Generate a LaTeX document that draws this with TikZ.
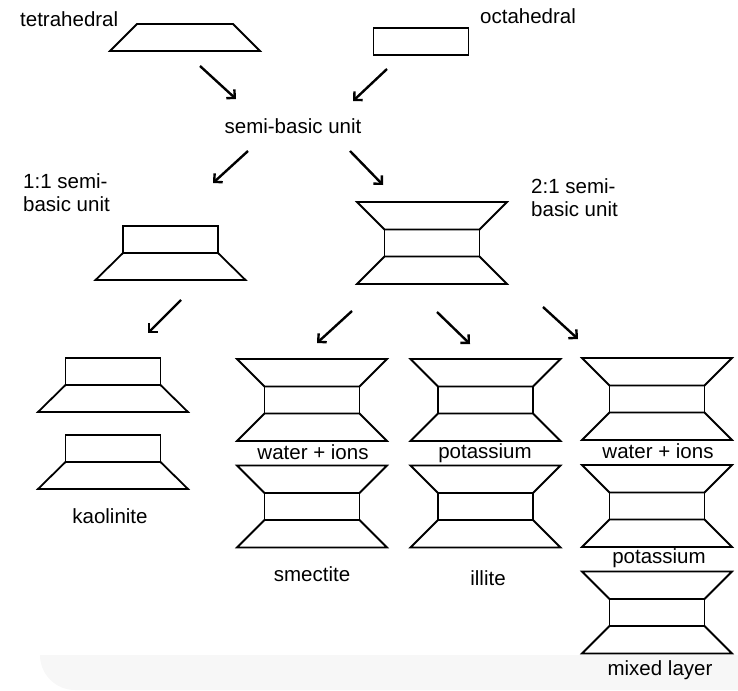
\documentclass[tikz,border=0pt]{standalone}
\usepackage{fontspec}
\setmainfont{Liberation Sans}
\usetikzlibrary{arrows.meta}

\begin{document}
\begin{tikzpicture}[
    x=1pt, y=-1pt,
    sheet/.style={line width=1.8pt, line join=miter},
    arrow/.style={-{Straight Barb[length=6pt, width=12pt]}, line width=2.4pt},
    lbl/.style={inner sep=0pt, font=\fontsize{20.5}{23}\selectfont},
    % tetrahedral sheet, narrow side up
    tet/.pic={\draw[sheet] (-48,-13.5) -- (48,-13.5) -- (75,13.5) -- (-75,13.5) -- cycle;},
    % octahedral sheet
    oct/.pic={\draw[sheet] (-47.5,-13.5) rectangle (47.5,13.5);},
    % 1:1 unit, octahedral on tetrahedral
    tounit/.pic={
        \draw[sheet] (-47.5,-27) rectangle (47.5,0);
        \draw[sheet] (-47.5,0) -- (47.5,0) -- (75,27) -- (-75,27) -- cycle;},
    % 2:1 unit, octahedral between two tetrahedral
    totunit/.pic={
        \draw[sheet] (-75,-41) -- (75,-41) -- (47.5,-13.5) -- (-47.5,-13.5) -- cycle;
        \draw[sheet] (-47.5,-13.5) rectangle (47.5,13.5);
        \draw[sheet] (-47.5,13.5) -- (47.5,13.5) -- (75,41) -- (-75,41) -- cycle;}
]
\useasboundingbox (0,0) rectangle (738,690);
\fill[black!3] (40,655) to[out=-90,in=180] (75,690) -- (738,690) -- (738,655) -- cycle;

% --- Sheets ---
\pic (tetra) at (185,37.5) {tet};
\pic (octa) at (421,41.5) {oct};
\node[lbl, anchor=base west] (tetlbl) at (20,27) {tetrahedral};
\node[lbl, anchor=base west] (octlbl) at (480,24) {octahedral};
\node[lbl, anchor=base] (semi) at (293,133) {semi-basic unit};

% --- Semi-basic units ---
\pic (one) at (170.5,253) {tounit};
\pic (two) at (432,243) {totunit};
\node[lbl, align=left, anchor=base west] (onelbl) at (23,211) {1:1 semi-\\basic unit};
\node[lbl, align=left, anchor=base west] (twolbl) at (531,216) {2:1 semi-\\basic unit};

% --- Kaolinite ---
\pic (kaoA) at (113,385) {tounit};
\pic (kaoB) at (113,462) {tounit};
\node[lbl, anchor=base] (kao) at (110,523) {kaolinite};

% --- Smectite ---
\pic (smeA) at (312,400) {totunit};
\pic (smeB) at (312,506.5) {totunit};
\node[lbl, anchor=base] (smeion) at (313,459) {water + ions};
\node[lbl, anchor=base] (sme) at (312,581) {smectite};

% --- Illite ---
\pic (illA) at (485.5,400) {totunit};
\pic (illB) at (485.5,506.5) {totunit};
\node[lbl, anchor=base] (illk) at (485,458) {potassium};
\node[lbl, anchor=base] (ill) at (488,585) {illite};

% --- Mixed layer ---
\pic (mixA) at (657,399) {totunit};
\pic (mixB) at (657,506) {totunit};
\pic (mixC) at (657,612.5) {totunit};
\node[lbl, anchor=base] (mixion) at (658,458) {water + ions};
\node[lbl, anchor=base] (mixk) at (659,563) {potassium};
\node[lbl, anchor=base] (mix) at (660,675) {mixed layer};

% --- Arrows ---
\coordinate (t1) at (200,66);  \coordinate (h1) at (236,99);
\coordinate (t2) at (387,69);  \coordinate (h2) at (353,101);
\coordinate (t3) at (248,151); \coordinate (h3) at (213,183);
\coordinate (t4) at (350,151); \coordinate (h4) at (383,185);
\coordinate (t5) at (181,300); \coordinate (h5) at (148,333);
\coordinate (t6) at (352,311); \coordinate (h6) at (317,343);
\coordinate (t7) at (437,312); \coordinate (h7) at (470,344);
\coordinate (t8) at (543,307); \coordinate (h8) at (578,339);
\draw[arrow] (t1) -- (h1);
\draw[arrow] (t2) -- (h2);
\draw[arrow] (t3) -- (h3);
\draw[arrow] (t4) -- (h4);
\draw[arrow] (t5) -- (h5);
\draw[arrow] (t6) -- (h6);
\draw[arrow] (t7) -- (h7);
\draw[arrow] (t8) -- (h8);

\end{tikzpicture}
\end{document}
